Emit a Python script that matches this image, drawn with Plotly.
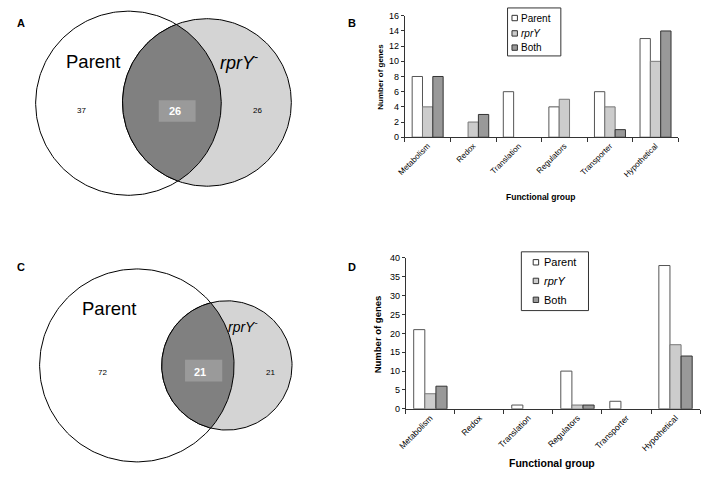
import numpy as np
import plotly.graph_objects as go

# ---------------- data ----------------
categories = ["Metabolism", "Redox", "Translation", "Regulators", "Transporter", "Hypothetical"]
series_names = ["Parent", "<i>rprY</i>", "Both"]

b_parent = [8, 0, 6, 4, 6, 13]
b_rpry = [4, 2, 0, 5, 4, 10]
b_both = [8, 3, 0, 0, 1, 14]

d_parent = [21, 0, 1, 10, 2, 38]
d_rpry = [4, 0, 0, 1, 0, 17]
d_both = [6, 0, 0, 1, 0, 14]

venn_a_counts = [37, 26, 26]   # parent only, both, rprY only
venn_c_counts = [72, 21, 21]

b_yticks = [0, 2, 4, 6, 8, 10, 12, 14, 16]
d_yticks = [0, 5, 10, 15, 20, 25, 30, 35, 40]

# ---------------- styling ----------------
W, H = 703, 486
FONT = "Liberation Sans, Arial, sans-serif"
bar_fill = ["#ffffff", "#cccccc", "#999999"]
bar_line = ["#555555", "#777777", "#333333"]
venn_parent_fill = "#ffffff"
venn_rpry_fill = "#d4d4d4"
venn_both_fill = "#808080"
venn_box_fill = "#9a9a9a"

fig = go.Figure()
annotations = []
shapes = []

# ---------------- bar charts ----------------
for vals_list, xa, ya in [((b_parent, b_rpry, b_both), "x", "y"),
                          ((d_parent, d_rpry, d_both), "x2", "y2")]:
    for i, (name, vals) in enumerate(zip(series_names, vals_list)):
        fig.add_trace(go.Bar(
            x=categories, y=vals, name=name, xaxis=xa, yaxis=ya, showlegend=False,
            hoverinfo="skip",
            marker=dict(color=bar_fill[i],
                        line=dict(color=bar_line[i], width=[1 if v > 0 else 0 for v in vals])),
        ))

# custom legends (box, swatches, labels) in pixel positions
legend_specs = [
    dict(box=(505, 3, 559, 52), sq_x=(509.5, 515), rows=[13.3, 29, 43.5], text_x=517, size=10, sq=5.5),
    dict(box=(519, 252, 587, 312), sq_x=(531, 536.5), rows=[262.7, 281.7, 301], text_x=540, size=11, sq=5.5),
]
for spec in legend_specs:
    x0, y0, x1, y1 = spec["box"]
    shapes.append(dict(type="rect", xref="paper", yref="paper", x0=x0 / W, x1=x1 / W,
                       y0=1 - y0 / H, y1=1 - y1 / H, line=dict(color="#333", width=1), fillcolor="#fff"))
    for i, (name, ry) in enumerate(zip(series_names, spec["rows"])):
        sx0, sx1 = spec["sq_x"]
        half = spec["sq"] / 2
        shapes.append(dict(type="rect", xref="paper", yref="paper", x0=sx0 / W, x1=sx1 / W,
                           y0=1 - (ry - half) / H, y1=1 - (ry + half) / H,
                           line=dict(color="#333", width=1), fillcolor=bar_fill[i]))
        annotations.append(dict(x=spec["text_x"] / W, y=1 - ry / H, xref="paper", yref="paper",
                                xanchor="left", yanchor="middle", text=name, showarrow=False,
                                font=dict(size=spec["size"], color="#000", family=FONT)))

# ---------------- Venn diagrams (pixel-space axes) ----------------
def circle_pts(cx, cy, r, n=240):
    t = np.linspace(0, 2 * np.pi, n)
    return cx + r * np.cos(t), cy + r * np.sin(t)

def lens_pts(c1, c2, n=120):
    (x1, y1, r1), (x2, y2, r2) = c1, c2
    d = np.hypot(x2 - x1, y2 - y1)
    a = (d * d + r1 * r1 - r2 * r2) / (2 * d)
    ux, uy = (x2 - x1) / d, (y2 - y1) / d
    base1 = np.arctan2(uy, ux)
    th1 = np.arccos(a / r1)
    base2 = np.arctan2(-uy, -ux)
    th2 = np.arccos((d - a) / r2)
    t1 = np.linspace(base1 - th1, base1 + th1, n)
    t2 = np.linspace(base2 - th2, base2 + th2, n)
    xs = np.concatenate([x1 + r1 * np.cos(t1), x2 + r2 * np.cos(t2)])
    ys = np.concatenate([y1 + r1 * np.sin(t1), y2 + r2 * np.sin(t2)])
    return np.append(xs, xs[0]), np.append(ys, ys[0])

venns = [
    dict(c1=(121, 100.3, 94), c2=(200.5, 99.5, 85.5), counts=venn_a_counts,
         parent_pos=(86, 58), rpry_pos=(233, 58), rpry_size=18,
         n_pos=[(73, 108), (168, 108.5), (252, 108)], box=(151.7, 97.3, 189, 119.3)),
    dict(c1=(129.5, 368, 98.5), c2=(220.7, 368, 66), counts=venn_c_counts,
         parent_pos=(101.7, 310), rpry_pos=(237, 328), rpry_size=14,
         n_pos=[(95, 375), (193, 374.5), (265, 375)], box=(178.3, 362.3, 216, 384.3)),
]

for v in venns:
    for c, fill in [(v["c1"], venn_parent_fill), (v["c2"], venn_rpry_fill)]:
        xs, ys = circle_pts(*c)
        fig.add_trace(go.Scatter(x=xs, y=ys, mode="lines", fill="toself", fillcolor=fill,
                                 line=dict(color="#000000", width=1), xaxis="x3", yaxis="y3",
                                 showlegend=False, hoverinfo="skip"))
    xs, ys = lens_pts(v["c1"], v["c2"])
    fig.add_trace(go.Scatter(x=xs, y=ys, mode="lines", fill="toself", fillcolor=venn_both_fill,
                             line=dict(color="#000000", width=1), xaxis="x3", yaxis="y3",
                             showlegend=False, hoverinfo="skip"))
    bx0, by0, bx1, by1 = v["box"]
    shapes.append(dict(type="rect", xref="x3", yref="y3", x0=bx0, y0=by0, x1=bx1, y1=by1,
                       fillcolor=venn_box_fill, line=dict(width=0)))
    annotations.append(dict(x=v["parent_pos"][0], y=v["parent_pos"][1], xref="x3", yref="y3",
                            xanchor="center", yanchor="middle",
                            text="Parent", showarrow=False, font=dict(size=18.5, color="#000", family=FONT)))
    annotations.append(dict(x=v["rpry_pos"][0], y=v["rpry_pos"][1], xref="x3", yref="y3",
                            xanchor="center", yanchor="middle",
                            text="<i>rprY</i><sup>-</sup>", showarrow=False,
                            font=dict(size=v["rpry_size"], color="#000", family=FONT)))
    for k, (px, py) in enumerate(v["n_pos"]):
        if k == 1:
            annotations.append(dict(x=px, y=py, xref="x3", yref="y3", text="<b>%d</b>" % v["counts"][k],
                                    xanchor="center", yanchor="middle",
                                    showarrow=False, font=dict(size=11, color="#ffffff", family=FONT)))
        else:
            annotations.append(dict(x=px, y=py, xref="x3", yref="y3", text=str(v["counts"][k]),
                                    xanchor="center", yanchor="middle",
                                    showarrow=False, font=dict(size=8, color="#000", family=FONT)))

# panel letters
for letter, (px, py) in zip("ABCD", [(12, 18), (347, 18), (12, 268), (347, 268)]):
    annotations.append(dict(x=px / W, y=1 - py / H, xref="paper", yref="paper", text="<b>%s</b>" % letter,
                            xanchor="center", yanchor="middle",
                            showarrow=False, font=dict(size=11, color="#000", family=FONT)))

# axis titles
annotations += [
    dict(x=376 / W, y=1 - 73 / H, xref="paper", yref="paper", text="<b>Number of genes</b>", textangle=-90,
         xanchor="center", yanchor="middle", showarrow=False, font=dict(size=8, color="#000", family=FONT)),
    dict(x=538 / W, y=1 - 196 / H, xref="paper", yref="paper", text="<b>Functional group</b>",
         xanchor="center", yanchor="middle", showarrow=False, font=dict(size=8.5, color="#000", family=FONT)),
    dict(x=373 / W, y=1 - 336 / H, xref="paper", yref="paper", text="<b>Number of genes</b>", textangle=-90,
         xanchor="center", yanchor="middle", showarrow=False, font=dict(size=9.5, color="#000", family=FONT)),
    dict(x=550 / W, y=1 - 468 / H, xref="paper", yref="paper", text="<b>Functional group</b>",
         xanchor="center", yanchor="middle", showarrow=False, font=dict(size=10.5, color="#000", family=FONT)),
]

common_x = dict(type="category", tickson="boundaries", ticks="outside", ticklen=4, tickcolor="#333",
                showline=True, linecolor="#333", linewidth=1, tickangle=-45, showgrid=False,
                fixedrange=True)
common_y = dict(ticks="outside", ticklen=3, tickcolor="#333", showline=True, linecolor="#333",
                linewidth=1, showgrid=False, zeroline=False, fixedrange=True)

fig.update_layout(
    width=W, height=H, margin=dict(l=0, r=0, t=0, b=0),
    paper_bgcolor="#ffffff", plot_bgcolor="rgba(0,0,0,0)",
    barmode="group", bargap=0.32, bargroupgap=0,
    font=dict(family=FONT, color="#000"),
    xaxis=dict(domain=[401 / W, 678 / W], anchor="y", tickfont=dict(size=8, color="#000"), **common_x),
    yaxis=dict(domain=[1 - 135 / H, 1 - 11 / H], anchor="x", range=[0, 16], tickvals=b_yticks,
               tickfont=dict(size=9, color="#000"), **common_y),
    xaxis2=dict(domain=[402 / W, 700 / W], anchor="y2", tickfont=dict(size=8.5, color="#000"), **common_x),
    yaxis2=dict(domain=[1 - 412.3 / H, 1 - 258.3 / H], anchor="x2", range=[0, 40], tickvals=d_yticks,
                tickfont=dict(size=9, color="#000"), **common_y),
    xaxis3=dict(domain=[0, 351.5 / W], range=[0, 351.5], visible=False, anchor="y3", fixedrange=True),
    yaxis3=dict(domain=[0, 1], range=[H, 0], visible=False, anchor="x3", fixedrange=True),
    annotations=annotations, shapes=shapes, showlegend=False, hovermode=False, dragmode=False,
)

fig.write_html("out.html", config={"displayModeBar": False, "staticPlot": True},
               post_script="document.body.style.margin='0px';document.body.style.overflow='hidden';")
